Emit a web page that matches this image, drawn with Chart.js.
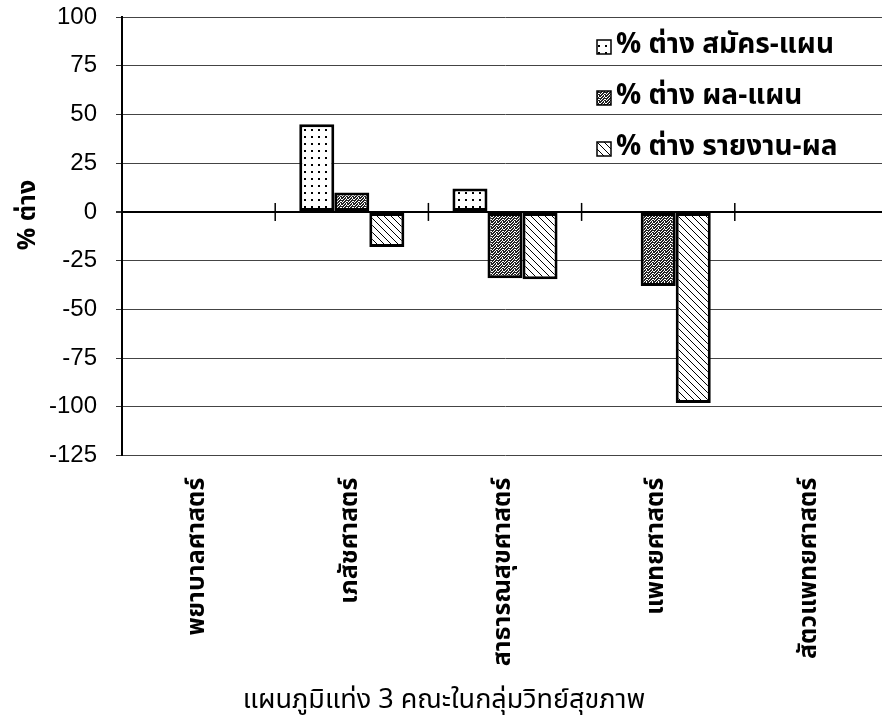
<!DOCTYPE html>
<html>
<head>
<meta charset="utf-8">
<script src="https://cdn.jsdelivr.net/npm/chart.js@4.4.1/dist/chart.umd.min.js"></script>
<style>
  html, body { margin: 0; padding: 0; background: #fff; overflow: hidden; }
  #wrap { width: 892px; height: 722px; }
</style>
</head>
<body>
<div id="wrap"><canvas id="chart" width="892" height="722"></canvas></div>
<script>
// --- Data ---
const faculties = ['พยาบาลศาสตร์', 'เภสัชศาสตร์', 'สาธารณสุขศาสตร์', 'แพทยศาสตร์', 'สัตวแพทยศาสตร์'];
const seriesNames = ['% ต่าง สมัคร-แผน', '% ต่าง ผล-แผน', '% ต่าง รายงาน-ผล'];
const applyVsPlan = [null, 45, 12, null, null];
const resultVsPlan = [null, 10, -34, -38, null];
const reportVsResult = [null, -18, -34.5, -98, null];
const yMin = -125, yMax = 100, yStep = 25;

const THAI = '"Noto Sans Thai", "Tahoma", "Loma", "Garuda", "Noto Sans", sans-serif';

// --- Fill patterns (dots, dense grey, diagonal hatch) ---
function makePattern(size, drawFn) {
    const c = document.createElement('canvas');
    c.width = size; c.height = size;
    const g = c.getContext('2d');
    g.fillStyle = '#fff';
    g.fillRect(0, 0, size, size);
    drawFn(g);
    return g.createPattern(c, 'repeat');
}
const ctx = document.getElementById('chart').getContext('2d');

const dotPattern = makePattern(7, g => {
    g.fillStyle = '#000';
    g.fillRect(3, 3, 2, 2);
});
const greyBits = [
    '101101',
    '011010',
    '110111',
    '101100',
    '011011',
    '110101'
];
const greyPattern = makePattern(6, g => {
    g.fillStyle = '#222';
    greyBits.forEach((row, y) => {
        [...row].forEach((b, x) => { if (b === '1') g.fillRect(x, y, 1, 1); });
    });
});
const hatchPattern = makePattern(7, g => {
    g.strokeStyle = '#000';
    g.lineWidth = 1;
    g.beginPath();
    g.moveTo(-1, -1); g.lineTo(8, 8);
    g.stroke();
});

// --- Extra drawing: crossing ticks on the zero line, legend, y title ---
const extras = {
    id: 'extras',
    afterDatasetsDraw(chart) {
        const { ctx, scales: { x, y } } = chart;
        const y0 = y.getPixelForValue(0);
        ctx.save();
        ctx.strokeStyle = '#000';
        ctx.lineWidth = 1.5;
        for (let i = 1; i < faculties.length; i++) {
            const xb = (x.getPixelForValue(i - 1) + x.getPixelForValue(i)) / 2;
            ctx.beginPath();
            ctx.moveTo(xb, y0 - 9);
            ctx.lineTo(xb, y0 + 9);
            ctx.stroke();
        }
        ctx.restore();
    },
    afterDraw(chart) {
        const { ctx } = chart;
        ctx.save();
        // legend
        chart.data.datasets.forEach((ds, i) => {
            const cy = 47 + i * 51;
            const bx = 597;
            ctx.fillStyle = ds.backgroundColor;
            ctx.fillRect(bx, cy - 7, 14, 14);
            ctx.strokeStyle = '#000';
            ctx.lineWidth = 1.5;
            ctx.strokeRect(bx, cy - 7, 14, 14);
            ctx.fillStyle = '#000';
            ctx.font = 'bold 28px ' + THAI;
            ctx.textBaseline = 'middle';
            ctx.textAlign = 'left';
            ctx.fillText(ds.label, bx + 19, cy);
        });
        // y axis title
        ctx.translate(30, 215);
        ctx.rotate(-Math.PI / 2);
        ctx.font = 'bold 25px ' + THAI;
        ctx.textAlign = 'center';
        ctx.textBaseline = 'middle';
        ctx.fillText('% ต่าง', 0, 0);
        ctx.restore();
    }
};

const barStyle = { borderColor: '#000', borderWidth: 3, borderSkipped: false };

new Chart(ctx, {
    type: 'bar',
    data: {
        labels: faculties,
        datasets: [
            { label: seriesNames[0], data: applyVsPlan, backgroundColor: dotPattern, ...barStyle },
            { label: seriesNames[1], data: resultVsPlan, backgroundColor: greyPattern, ...barStyle },
            { label: seriesNames[2], data: reportVsResult, backgroundColor: hatchPattern, ...barStyle }
        ]
    },
    options: {
        responsive: false,
        animation: false,
        devicePixelRatio: 1,
        categoryPercentage: 0.686,
        barPercentage: 1.0,
        layout: { padding: { top: 17, right: 4, left: 0, bottom: 0 } },
        plugins: {
            legend: { display: false },
            tooltip: { enabled: false },
            title: {
                display: true,
                position: 'bottom',
                text: 'แผนภูมิแท่ง 3 คณะในกลุ่มวิทย์สุขภาพ',
                color: '#000',
                font: { family: THAI, size: 27, weight: 'normal' },
                padding: { top: 0, bottom: 3 }
            }
        },
        scales: {
            x: {
                grid: { display: false },
                border: { display: false },
                ticks: {
                    color: '#000',
                    minRotation: 90,
                    maxRotation: 90,
                    autoSkip: false,
                    padding: 14,
                    font: { family: THAI, size: 25, weight: 'bold' }
                },
                afterFit(scale) { scale.height = 231; }
            },
            y: {
                min: yMin,
                max: yMax,
                ticks: {
                    stepSize: yStep,
                    color: '#000',
                    padding: 19,
                    font: { family: '"Liberation Sans", Arial, sans-serif', size: 24 }
                },
                grid: {
                    color: ctx => ctx.tick && ctx.tick.value === 0 ? '#000' : '#444',
                    lineWidth: ctx => ctx.tick && ctx.tick.value === 0 ? 2 : 1,
                    tickLength: 6,
                    tickColor: '#333'
                },
                border: { color: '#000', width: 2 },
                afterFit(scale) {
                    scale.width = 122;
                    scale.paddingTop = 0;
                    scale.paddingBottom = 0;
                }
            }
        }
    },
    plugins: [extras]
});
</script>
</body>
</html>
